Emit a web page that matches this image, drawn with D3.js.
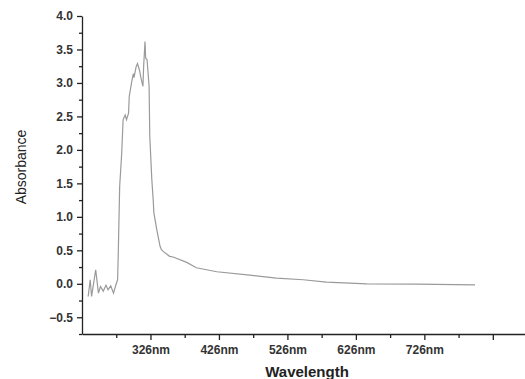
<!DOCTYPE html>
<html>
<head>
<meta charset="utf-8">
<script src="https://cdn.jsdelivr.net/npm/d3@7"></script>
<style>
  body { margin: 0; background: #fff; }
  text { font-family: "Liberation Sans", Arial, sans-serif; }
</style>
</head>
<body>
<div id="chart"></div>
<script>
// spectrum
var wavelength = [235, 238, 240, 243, 246, 250, 253, 257, 261, 264, 268, 272, 276, 278,
  279, 281, 284, 286, 289, 291, 294, 295, 299, 301, 302, 305, 307, 310, 312, 315,
  316, 318, 319, 321, 324, 325, 328, 330, 331, 335, 340, 342, 345, 354, 359, 379,
  393, 423, 471, 510, 549, 583, 642, 715, 800];
var absorbance = [-0.19, 0.06, -0.19, 0.01, 0.21, -0.14, -0.04, -0.11, -0.02, -0.09, -0.03, -0.14, 0.0, 0.06,
  0.46, 1.45, 1.95, 2.45, 2.52, 2.45, 2.55, 2.80, 3.04, 3.14, 3.08, 3.24, 3.29, 3.19, 3.08, 2.95,
  3.24, 3.62, 3.37, 3.35, 2.95, 2.2, 1.55, 1.25, 1.06, 0.82, 0.56, 0.51, 0.48, 0.41, 0.40, 0.32,
  0.24, 0.18, 0.13, 0.085, 0.06, 0.025, 0.0, -0.005, -0.015];

var xMajor = [326, 426, 526, 626, 726, 826];
var xLabels = ["326nm", "426nm", "526nm", "626nm", "726nm", ""];
var xMinor = [276, 376, 476, 576, 676, 776, 876];
var yMajor = [-0.5, 0, 0.5, 1, 1.5, 2, 2.5, 3, 3.5, 4];
var yMinor = [-0.75, -0.25, 0.25, 0.75, 1.25, 1.75, 2.25, 2.75, 3.25, 3.75];

var W = 525, H = 379;
var plot = {left: 82, top: 16, right: 525, bottom: 334};

var svg = d3.select("#chart")
  .append("svg")
    .attr("width", W)
    .attr("height", H);

var x = d3.scaleLinear().domain([226, 873]).range([plot.left, plot.right]);
var y = d3.scaleLinear().domain([-0.75, 4]).range([plot.bottom, plot.top]);

// minor ticks first, no labels
svg.append("g")
  .attr("transform", `translate(0,${plot.bottom})`)
  .call(d3.axisBottom(x).tickValues(xMinor).tickSize(4).tickFormat(""))
  .call(g => g.select(".domain").remove());
svg.append("g")
  .attr("transform", `translate(${plot.left},0)`)
  .call(d3.axisLeft(y).tickValues(yMinor).tickSize(3).tickFormat(""))
  .call(g => g.select(".domain").remove());

// x axis
var gx = svg.append("g")
  .attr("transform", `translate(0,${plot.bottom})`)
  .call(d3.axisBottom(x).tickValues(xMajor).tickSize(6).tickSizeOuter(0)
    .tickFormat((d, i) => xLabels[i]));
gx.selectAll("text")
  .attr("y", 11)
  .style("font-size", "12px")
  .style("font-weight", "bold")
  .attr("fill", "#333");

// y axis
var gy = svg.append("g")
  .attr("transform", `translate(${plot.left},0)`)
  .call(d3.axisLeft(y).tickValues(yMajor).tickSize(5).tickSizeOuter(0)
    .tickFormat(d3.format(".1f")));
gy.selectAll("text")
  .attr("x", -9)
  .style("font-size", "12px")
  .style("font-weight", "bold")
  .attr("fill", "#333");

svg.selectAll(".domain, .tick line")
  .attr("stroke", "#222")
  .attr("stroke-width", 1.3);

// axis titles
svg.append("text")
  .attr("x", 307)
  .attr("y", 377)
  .attr("text-anchor", "middle")
  .style("font-size", "15px")
  .style("font-weight", "bold")
  .attr("fill", "#222")
  .text("Wavelength");

svg.append("text")
  .attr("transform", "translate(26,167)rotate(-90)")
  .attr("text-anchor", "middle")
  .style("font-size", "14px")
  .attr("fill", "#222")
  .text("Absorbance");

// spectrum line
var pts = wavelength.map((w, i) => [w, absorbance[i]]);
svg.append("path")
  .datum(pts)
  .attr("fill", "none")
  .attr("stroke", "#9a9a9a")
  .attr("stroke-width", 1.2)
  .attr("d", d3.line().x(d => x(d[0])).y(d => y(d[1])));
</script>
</body>
</html>
